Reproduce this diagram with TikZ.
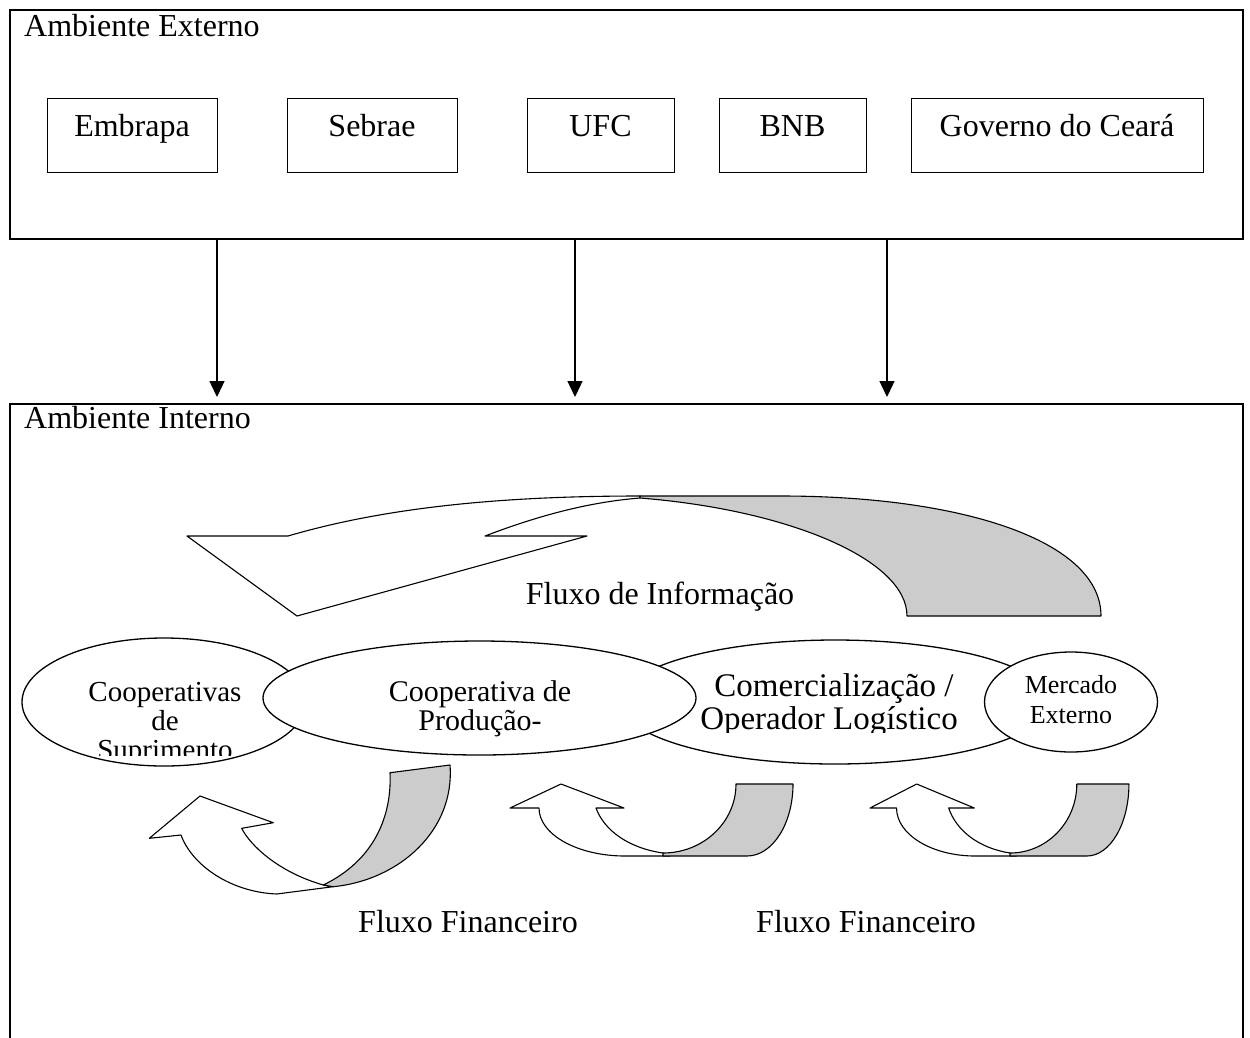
\documentclass[tikz,border=0pt]{standalone}
\usepackage{fontspec}
\setmainfont{Liberation Serif}
\usetikzlibrary{arrows.meta,shapes.geometric}
\definecolor{shade}{HTML}{CCCCCC}
\begin{document}
\begin{tikzpicture}[x=1pt,y=-1pt,
  lbl/.style={inner sep=0pt,anchor=base west,font=\fontsize{32}{38}\selectfont},
  orgbox/.style={draw,line width=0.9pt,minimum width=#1,minimum height=74pt,inner sep=0pt,font=\fontsize{32}{38}\selectfont,text height=0.66em,text depth=0.32em},
  frame/.style={draw,line width=1.6pt,anchor=north west,inner sep=0pt},
  down/.style={line width=1.4pt,-{Triangle[length=16pt,width=15pt]}},
  elli/.style={ellipse,draw,fill=white,line width=1.3pt,inner sep=0pt},
  etxt/.style={inner sep=0pt,anchor=base,font=\fontsize{#1}{#1}\selectfont},
  band/.style={draw,line width=1.1pt,line join=round},
  back/.style={band,fill=shade},
  finarrow/.pic={
    \draw[band,fill=white] (0,0) -- (51,-24) -- (114,0) -- (86,0) .. controls (94,22) and (118,40) .. (153,45) -- (160,48) -- (115,48) .. controls (67.5,48) and (29,26.5) .. (29,0) -- cycle;
    \draw[back] (226,-24) -- (283,-24) .. controls (283,15.8) and (262.4,48) .. (237,48) -- (153,48) -- (153,45) .. controls (193.3,45) and (226,14.1) .. (226,-24) -- cycle;
  }
]
\useasboundingbox (0,0) rectangle (1250,1037);

% external environment
\node[frame,minimum width=1233pt,minimum height=229pt] (ext) at (9,9) {};
\node[lbl] (extlbl) at (24,36) {Ambiente Externo};
\node[orgbox=170pt] (embrapa) at (132,135) {Embrapa};
\node[orgbox=170pt] (sebrae) at (372,135) {Sebrae};
\node[orgbox=147pt] (ufc) at (600.5,135) {UFC};
\node[orgbox=147pt] (bnb) at (792.5,135) {BNB};
\node[orgbox=292pt] (gov) at (1057,135) {Governo do Ceará};

% internal environment
\node[frame,minimum width=1233pt,minimum height=700pt] (int) at (9,403) {};
\node[lbl] (intlbl) at (24,428) {Ambiente Interno};

% arrows between environments
\coordinate (t1) at (217,397);
\coordinate (t2) at (575,397);
\coordinate (t3) at (887,397);
\draw[down] (ext.south -| t1) -- (t1);
\draw[down] (ext.south -| t2) -- (t2);
\draw[down] (ext.south -| t3) -- (t3);

% information flow arrow
\draw[band,fill=white] (187,536) -- (288,536) .. controls (390,506) and (510,496) .. (640,496) -- (640,498) .. controls (590,502) and (540,515) .. (485,536) -- (587,536) -- (297,616) -- cycle;
\draw[back] (640,496) -- (781,496) .. controls (960,496) and (1101,540) .. (1101,616) -- (907,616) .. controls (907,560) and (790,510) .. (640,498) -- cycle;
\node[etxt=32] (info) at (660,604) {Fluxo de Informação};

% chain ellipses
\node[elli,minimum width=430pt,minimum height=124pt] (e3) at (835,702) {};
\node[elli,minimum width=284pt,minimum height=128pt] (e1) at (164,702) {};
\node[elli,minimum width=433pt,minimum height=114pt] (e2) at (479.5,698) {};
\node[elli,minimum width=173pt,minimum height=100pt] (e4) at (1071,702) {};

\begin{scope}
\clip (20,640) rectangle (310,755);
\node[etxt=29] (e1a) at (165,701.7) {Cooperativas};
\node[etxt=29] (e1b) at (165,730) {de};
\node[etxt=29] (e1c) at (165,759) {Suprimento};
\end{scope}
\node[etxt=30] (e2a) at (480,701.7) {Cooperativa de};
\node[etxt=30] (e2b) at (480,730) {Produção-};
\begin{scope}
\clip (640,650) rectangle (1000,732);
\node[etxt=33] (e3a) at (834,696.7) {Comercialização /};
\node[etxt=33] (e3b) at (829,729) {Operador Logístico};
\end{scope}
\node[etxt=26] (e4a) at (1071,693) {Mercado};
\node[etxt=26] (e4b) at (1071,723) {Externo};

% financial flow arrows
\draw[band,fill=white] (149.3,838.3) -- (200,796) -- (273.3,822.7) -- (241.7,828.3) .. controls (250,845) and (278,872) .. (323.3,885) -- (333,886.7) -- (276.7,894) .. controls (230,892) and (192,865) .. (181,835) -- cycle;
\draw[back] (390,772.7) -- (450,765) .. controls (455,830) and (400,880) .. (333.3,886.7) -- (323.3,885) .. controls (375,860) and (392,815) .. (390,772.7) -- cycle;
\pic at (510,808) {finarrow};
\pic[xscale=0.915] at (870,808) {finarrow};

\node[etxt=32] (ff1) at (468,932) {Fluxo Financeiro};
\node[etxt=32] (ff2) at (866,932) {Fluxo Financeiro};
\end{tikzpicture}
\end{document}
